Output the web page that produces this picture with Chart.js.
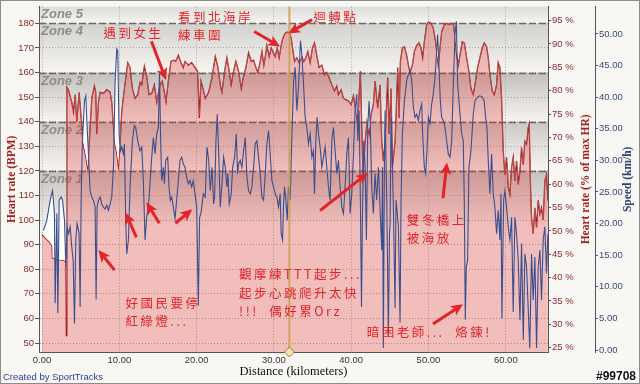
<!DOCTYPE html>
<html lang="zh-Hant">
<head>
<meta charset="UTF-8">
<title>Heart rate / Speed</title>
<script src="https://cdn.jsdelivr.net/npm/chart.js"></script>
<style>
    body { margin: 0; background: #f8f7f4; }
    canvas { display: block; }
</style>
</head>
<body>
<canvas id="chart" width="640" height="384"></canvas>
<script>
// heart rate (bpm) by distance (km)
const hrKm = [0, 0.5, 1.0, 1.3, 1.35, 2.0, 2.9, 3.1, 3.15, 3.21, 3.42, 3.85, 4.07, 4.29, 4.5, 4.8, 5.06, 5.28, 5.58, 5.92,
    6.22, 6.44, 6.78, 6.95, 7.08, 7.3, 7.52, 7.95, 8.38, 8.81, 9.02, 9.37, 9.67, 9.88, 10.1, 10.31, 10.66, 11.09, 11.39, 11.69,
    12.04, 12.38, 12.68, 12.9, 13.24, 13.54, 13.85, 14.19, 14.53, 14.84, 15.27, 15.57, 15.83, 16.04, 16.34, 16.69, 16.99, 17.29, 17.64, 17.98,
    18.28, 18.5, 18.93, 19.36, 19.7, 20.13, 20.35, 20.56, 20.87, 21.12, 21.56, 21.99, 22.42, 22.76, 23.06, 23.28, 23.62, 23.92, 24.14, 24.47,
    24.78, 25.08, 25.43, 25.78, 26.07, 26.38, 26.72, 27.07, 27.37, 27.67, 27.93, 28.23, 28.45, 28.7, 28.88, 29.09, 29.39, 29.65, 29.87, 30.17,
    30.43, 30.68, 30.94, 31.16, 31.46, 31.8, 32.02, 32.24, 32.41, 32.67, 32.97, 33.27, 33.61, 33.87, 34.13, 34.39, 34.69, 34.99, 35.25, 35.55,
    35.85, 36.2, 36.54, 36.84, 37.14, 37.49, 37.83, 38.13, 38.35, 38.7, 39.0, 39.3, 39.64, 39.99, 40.29, 40.59, 40.85, 41.02, 41.19, 41.37,
    41.54, 41.8, 42.05, 42.31, 42.57, 42.87, 43.09, 43.43, 43.73, 43.95, 44.16, 44.38, 44.72, 44.9, 45.16, 45.33, 45.68, 46.02, 46.19, 46.36,
    46.62, 46.88, 47.18, 47.4, 47.61, 47.91, 48.17, 48.47, 48.77, 49.03, 49.24, 49.46, 49.76, 49.98, 50.32, 50.62, 50.92, 51.1, 51.27, 51.49,
    51.7, 52.05, 52.35, 52.65, 53.0, 53.25, 53.43, 53.64, 53.86, 54.07, 54.37, 54.63, 54.93, 55.23, 55.49, 55.79, 56.01, 56.35, 56.65, 56.95,
    57.21, 57.51, 57.73, 57.95, 58.25, 58.51, 58.81, 59.02, 59.24, 59.45, 59.67, 59.88, 60.1, 60.31, 60.53, 60.75, 60.96, 61.18, 61.39, 61.61,
    61.83, 62.04, 62.26, 62.47, 62.69, 62.9, 63.03, 63.2, 63.33, 63.55, 63.76, 63.98, 64.19, 64.41, 64.62, 64.84, 65.05, 65.27, 65.45];
const hrBpm = [94, 92.5, 91, 89.5, 84.5, 84, 83.5, 83, 53, 154, 153, 148, 144, 151, 140, 152, 142, 132, 127, 121,
    137.5, 149.5, 154.5, 152, 135, 148, 152, 151.5, 153, 152, 148, 132, 127, 122, 131, 144, 153.5, 164, 162, 153.5,
    149.5, 151, 156, 155, 162.5, 158.5, 151, 151.5, 155, 148, 155, 156.5, 152, 148, 156.5, 164.5, 165, 164.5, 167, 164,
    162, 164.5, 163, 164, 162.5, 160.5, 141.5, 156.5, 153, 149.5, 152, 158, 166.5, 162, 155, 152, 160.5, 166, 162, 155,
    160.5, 164.5, 160.5, 153.5, 158.5, 162, 168, 164.5, 165, 162, 160, 164.5, 168.5, 163, 166.5, 171, 166.5, 170, 168.5, 166.5,
    170, 166, 171, 174, 176, 176.5, 176, 174, 170, 164.5, 166, 164, 166.5, 164.5, 166, 168.5, 164, 170, 172, 167,
    162, 163, 159, 160, 158, 155, 152.5, 154.5, 151, 153, 149.5, 149, 148.5, 147, 150.5, 144.5, 139, 151, 160.5, 137.5,
    118.5, 132, 140, 135, 143, 147, 156.5, 145.5, 155, 132, 124, 132, 158, 135, 153.5, 121.5, 132, 162, 141.5, 164.5,
    170, 170.5, 167, 163, 160, 163, 168.5, 171, 172, 170, 166, 172.5, 179.5, 180.5, 180, 178, 172.5, 167, 163, 170,
    176.5, 179.5, 180, 179.5, 180, 179.5, 174, 167, 163, 167, 172.5, 172, 166, 160.5, 153.5, 151, 155, 162, 166, 170,
    172, 170.5, 166, 159, 152.5, 151, 155, 164, 162, 149.5, 128, 118.5, 125.5, 113.5, 110.5, 121.5, 125.5, 116, 124, 114.5,
    120, 129.5, 122.5, 132, 131, 137.5, 139, 113.5, 101, 94.5, 105, 97, 108, 102.5, 105, 100, 116, 118.5, 108];

// speed (km/h) by distance (km)
const spdKm = [0.19, 0.62, 1.06, 1.36, 1.61, 1.7, 1.92, 2.05, 2.22, 2.48, 2.65, 2.91, 3.08, 3.25, 3.42, 3.64, 3.85, 4.03, 4.2, 4.37,
    4.54, 4.8, 4.93, 5.06, 5.23, 5.49, 5.66, 5.84, 6.01, 6.22, 6.44, 6.65, 6.87, 7.0, 7.13, 7.3, 7.52, 7.73, 7.95, 8.16,
    8.38, 8.59, 8.81, 9.02, 9.24, 9.45, 9.67, 9.8, 9.97, 10.14, 10.31, 10.53, 10.66, 10.83, 10.96, 11.18, 11.39, 11.69, 11.95, 12.12,
    12.38, 12.68, 12.9, 13.11, 13.33, 13.54, 13.76, 13.97, 14.19, 14.41, 14.62, 14.84, 15.05, 15.2, 15.35, 15.48, 15.7, 15.83, 16.0, 16.26,
    16.43, 16.6, 16.77, 16.99, 17.21, 17.42, 17.64, 17.85, 18.07, 18.28, 18.5, 18.71, 18.93, 19.14, 19.36, 19.57, 19.79, 20.01, 20.22, 20.39,
    20.56, 20.87, 21.12, 21.34, 21.56, 21.77, 21.99, 22.2, 22.33, 22.5, 22.67, 22.85, 23.06, 23.28, 23.49, 23.71, 23.92, 24.05, 24.22, 24.48,
    24.66, 24.92, 25.13, 25.3, 25.43, 25.65, 25.86, 26.08, 26.29, 26.51, 26.72, 26.94, 27.15, 27.37, 27.58, 27.8, 28.01, 28.23, 28.44, 28.66,
    28.88, 29.09, 29.31, 29.52, 29.74, 29.95, 30.17, 30.38, 30.6, 30.81, 30.94, 31.12, 31.25, 31.37, 31.55, 31.72, 31.89, 32.11, 32.24, 32.54,
    32.75, 32.97, 33.18, 33.44, 33.61, 33.83, 34.04, 34.26, 34.47, 34.69, 34.91, 35.12, 35.25, 35.42, 35.59, 35.77, 35.98, 36.2, 36.41, 36.63,
    36.84, 37.06, 37.27, 37.49, 37.7, 37.92, 38.14, 38.35, 38.57, 38.78, 39.0, 39.21, 39.43, 39.64, 39.86, 40.07, 40.29, 40.5, 40.72, 40.85,
    41.02, 41.19, 41.33, 41.45, 41.62, 41.8, 41.97, 42.14, 42.31, 42.48, 42.66, 42.87, 43.09, 43.3, 43.52, 43.73, 43.95, 44.05, 44.16, 44.3,
    44.38, 44.6, 44.81, 44.95, 45.03, 45.16, 45.33, 45.46, 45.67, 45.8, 46.11, 46.32, 46.45, 46.62, 46.88, 47.18, 47.4, 47.61, 47.83, 48.04,
    48.26, 48.47, 48.69, 48.9, 49.12, 49.24, 49.46, 49.63, 49.8, 49.98, 50.19, 50.41, 50.62, 50.84, 51.06, 51.18, 51.36, 51.53, 51.7, 51.92,
    52.13, 52.35, 52.56, 52.78, 53.0, 53.21, 53.43, 53.6, 53.77, 53.94, 54.11, 54.29, 54.5, 54.63, 54.76, 54.89, 55.06, 55.23, 55.49, 55.79,
    56.01, 56.35, 56.65, 56.95, 57.21, 57.39, 57.56, 57.73, 57.95, 58.16, 58.38, 58.59, 58.81, 59.02, 59.24, 59.37, 59.5, 59.72, 59.88, 60.1,
    60.31, 60.53, 60.75, 60.96, 61.18, 61.39, 61.61, 61.83, 62.04, 62.26, 62.47, 62.69, 63.1, 63.33, 63.55, 63.76, 63.98, 64.19, 64.41, 64.62,
    64.84, 65.05, 65.27, 65.45];
const spdKmh = [18.9, 20.5, 23.7, 25.2, 21.6, 7.4, 21.6, 5.8, 23.7, 24.2, 23.7, 20.5, 13.1, 19.5, 18.4, 19.5, 16.3, 14.2, 4.2, 17.4,
    20, 18.4, 6.8, 23.7, 33.1, 39.4, 40.2, 35.2, 31, 25.2, 24.2, 23.7, 22.6, 8, 22.6, 23.7, 24.2, 23.1, 22.6, 22.3,
    22.9, 22.1, 23.1, 24.2, 28.9, 42.1, 47.6, 47.3, 34.2, 31.5, 32.1, 31, 32.6, 20.5, 15.2, 17.4, 25.8, 33.1, 35.5, 35.2,
    33.1, 31.5, 32.1, 26.8, 17.4, 21, 22.6, 26.3, 30.5, 33.6, 31, 34.2, 35.2, 44, 33.1, 26.8, 28.9, 26.3, 30, 30.5,
    25.8, 23.7, 24.2, 22.6, 20.8, 23.7, 26.8, 30, 30.5, 29.4, 28.9, 27.3, 26.3, 26.8, 25.8, 26.8, 24.7, 22.6, 7, 21,
    21.6, 24.7, 24.2, 32.1, 30, 25.2, 28.9, 23.1, 24.2, 33.1, 37.3, 31.5, 22.6, 26.3, 30.5, 28.9, 25.8, 27.9, 23.1, 24.7,
    28.9, 30.5, 34.2, 27.9, 29.4, 30, 28.9, 31.5, 33.6, 27.3, 25.2, 24.7, 25.8, 28.9, 32.6, 33.1, 30.5, 27.9, 24.2, 23.7,
    27.9, 32.6, 34.7, 31, 26.8, 25.8, 24.7, 24.2, 22.6, 24.7, 18.4, 17.4, 23.1, 25.8, 23.7, 20.5, 25.8, 23.7, 30, 42.6,
    44.7, 37.9, 41.5, 48.9, 46.8, 42.1, 36.8, 35.2, 32.6, 34.2, 30.5, 31.5, 24.7, 33.1, 36.8, 34.2, 32.1, 28.9, 30.5, 32.1,
    28.9, 25.8, 23.7, 33.1, 35.2, 31.5, 27.9, 30, 25.8, 22.6, 21.6, 25.8, 31, 33.6, 21.6, 24.7, 31, 37.9, 40.5, 33.1,
    37.9, 23.7, 6.8, 21, 33.1, 28.9, 17.4, 35.2, 39.4, 35.2, 25.8, 21.6, 27.9, 23.7, 28.9, 22.6, 15.8, 28.9, 0.3, 30,
    37.9, 23.7, 2.1, 18.4, 20, 36.8, 28.9, 22.6, 6.6, 23.7, 19.5, 4.3, 23.7, 34.2, 39.4, 42.6, 43.6, 44.2, 42.6, 38.4,
    36.8, 37.3, 36.3, 37.9, 38.9, 34.2, 28.9, 27.9, 31.5, 36.8, 35.8, 38.9, 40.5, 43.1, 47.3, 49.9, 44.7, 39.4, 36.8, 36.3,
    35.2, 33.1, 31, 30.5, 33.1, 42.1, 49.9, 52, 42.1, 39.4, 36.8, 34.2, 33.1, 23.7, 4.8, 13.1, 14.2, 28.9, 31.5, 37.3,
    39.4, 40, 40.2, 40, 39.4, 36.8, 35.2, 30, 24.7, 31, 24.7, 22.6, 18.4, 22.1, 17.4, 24.7, 5, 23.7, 25.2, 22.6,
    19.5, 17.4, 21, 6, 21, 18.4, 14.2, 4.7, 16.8, 1.6, 15.2, 13.1, 0.3, 15.2, 7.9, 14.7, 0.3, 13.1, 15.8, 7.9,
    17.4, 19.5, 12.1, 18.4];

// heart rate zone limits (bpm)
const zoneLimits = [120, 140, 160, 180];
const zoneNames = ['Zone 1', 'Zone 2', 'Zone 3', 'Zone 4', 'Zone 5'];
const zoneShade = ['#c5c2be', '#cbc8c4', '#c3c0bc', '#d3d1cd', '#dedcd8'];

// turnaround marker
const markerKm = 32.0;

// red handwritten notes: [km, bpm] of first line's left edge, line gap in px
const notes = [
    { at: [7.95, 175.8], lines: ['遇到女生'] },
    { at: [17.6, 182.6], lines: ['看到北海岸', '練車圍'] },
    { at: [35.1, 182.6], lines: ['迴轉點'] },
    { at: [10.8, 66.2], lines: ['好國民要停', '紅綠燈...'] },
    { at: [25.5, 77.9], lines: ['觀摩練TTT起步...', '起步心跳爬升太快', '!!!  偶好累Orz'] },
    { at: [47.2, 100.0], lines: ['雙冬橋上', '被海放'] },
    { at: [42.0, 54.5], lines: ['暗困老師...  烙鍊!'] }
];
// arrows: tail [km, bpm] -> tip [km, bpm]
const arrows = [
    [[14.15, 172.7], [16.05, 157.0]],
    [[27.45, 176.7], [30.8, 170.6]],
    [[34.95, 181.5], [31.85, 175.9]],
    [[9.37, 79.7], [7.3, 87.8]],
    [[12.21, 93.0], [10.79, 103.1]],
    [[15.18, 98.7], [13.5, 107.2]],
    [[17.25, 98.7], [19.44, 104.4]],
    [[35.98, 103.9], [42.18, 119.2]],
    [[51.87, 108.9], [52.39, 123.4]],
    [[50.58, 57.7], [54.46, 65.8]]
];

const tickFont = { family: '"Liberation Sans", Arial, sans-serif', size: 9.5 };
const serif = '"Liberation Serif", "DejaVu Serif", serif';

function drawArrow(ctx, x1, y1, x2, y2) {
    const ang = Math.atan2(y2 - y1, x2 - x1);
    const cos = Math.cos(ang), sin = Math.sin(ang);
    const head = 12, wing = 5.5, notch = 3;
    const bx = x2 - head * cos, by = y2 - head * sin;
    ctx.lineWidth = 3;
    ctx.beginPath();
    ctx.moveTo(x1, y1);
    ctx.lineTo(bx + notch * cos, by + notch * sin);
    ctx.stroke();
    ctx.beginPath();
    ctx.moveTo(x2, y2);
    ctx.lineTo(bx + wing * sin, by - wing * cos);
    ctx.lineTo(bx + notch * cos, by + notch * sin);
    ctx.lineTo(bx - wing * sin, by + wing * cos);
    ctx.closePath();
    ctx.fill();
}

const sportPlugin = {
    id: 'sportTracks',
    beforeDraw(chart) {
        const { ctx, chartArea: a, scales: { y } } = chart;
        ctx.save();
        ctx.fillStyle = '#f8f7f4';
        ctx.fillRect(0, 0, chart.width, chart.height);
        const edges = [y.min, ...zoneLimits, y.max];
        for (let i = 0; i < edges.length - 1; i++) {
            const top = y.getPixelForValue(edges[i + 1]);
            const bot = y.getPixelForValue(edges[i]);
            const g = ctx.createLinearGradient(0, top, 0, top + Math.min(bot - top, 58));
            g.addColorStop(0, zoneShade[i]);
            g.addColorStop(1, '#f7f5f2');
            ctx.fillStyle = g;
            ctx.fillRect(a.left, top, a.right - a.left, bot - top);
        }
        ctx.restore();
    },
    beforeDatasetsDraw(chart) {
        const { ctx, chartArea: a, scales: { y } } = chart;
        ctx.save();
        ctx.font = 'italic bold 13px "Liberation Sans", Arial, sans-serif';
        ctx.fillStyle = '#8f8d8a';
        ctx.textBaseline = 'top';
        ctx.fillText(zoneNames[4], a.left + 2, a.top + 1);
        zoneLimits.forEach((z, i) => {
            ctx.fillText(zoneNames[i], a.left + 2, y.getPixelForValue(z) + 2);
        });
        ctx.strokeStyle = 'rgba(95,93,90,0.9)';
        ctx.lineWidth = 1.6;
        ctx.setLineDash([7, 3]);
        zoneLimits.forEach(z => {
            const py = Math.round(y.getPixelForValue(z)) + 0.5;
            ctx.beginPath();
            ctx.moveTo(a.left, py);
            ctx.lineTo(a.right, py);
            ctx.stroke();
        });
        ctx.restore();
    },
    afterDatasetsDraw(chart) {
        const { ctx, chartArea: a, scales: { x } } = chart;
        const mx = x.getPixelForValue(markerKm);
        ctx.save();
        ctx.strokeStyle = 'rgba(200,160,80,0.85)';
        ctx.lineWidth = 2;
        ctx.beginPath();
        ctx.moveTo(mx, a.top);
        ctx.lineTo(mx, a.bottom);
        ctx.stroke();
        ctx.fillStyle = '#f3e6a6';
        ctx.strokeStyle = '#9a7a3a';
        ctx.lineWidth = 1;
        ctx.beginPath();
        ctx.moveTo(mx, a.bottom - 5);
        ctx.lineTo(mx + 5, a.bottom);
        ctx.lineTo(mx, a.bottom + 5);
        ctx.lineTo(mx - 5, a.bottom);
        ctx.closePath();
        ctx.fill();
        ctx.stroke();
        ctx.restore();
    },
    afterDraw(chart) {
        const { ctx, chartArea: a, scales: { x, y } } = chart;
        const midY = (a.top + a.bottom) / 2;
        ctx.save();
        // axis titles
        const vTitle = (text, cx, color) => {
            ctx.save();
            ctx.translate(cx, midY);
            ctx.rotate(-Math.PI / 2);
            ctx.fillStyle = color;
            ctx.font = 'bold 11.5px ' + serif;
            ctx.textAlign = 'center';
            ctx.textBaseline = 'middle';
            ctx.fillText(text, 0, 0);
            ctx.restore();
        };
        vTitle('Heart rate (BPM)', 12, '#a3201c');
        vTitle('Heart rate (% of max HR)', 586, '#a3201c');
        vTitle('Speed (km/h)', 628, '#2c4474');
        ctx.fillStyle = '#111';
        ctx.font = '12.5px ' + serif;
        ctx.textAlign = 'center';
        ctx.textBaseline = 'middle';
        ctx.fillText('Distance (kilometers)', (a.left + a.right) / 2, 372);

        // notes
        ctx.fillStyle = '#e2242a';
        ctx.strokeStyle = '#e2242a';
        ctx.textAlign = 'left';
        ctx.font = '12.5px "Noto Sans CJK TC", "Noto Sans CJK SC", sans-serif';
        ctx.letterSpacing = '2.5px';
        notes.forEach(n => {
            const px = x.getPixelForValue(n.at[0]);
            const py = y.getPixelForValue(n.at[1]);
            n.lines.forEach((t, i) => ctx.fillText(t, px, py + i * 18.5));
        });
        ctx.letterSpacing = '0px';
        arrows.forEach(([from, to]) => {
            drawArrow(ctx, x.getPixelForValue(from[0]), y.getPixelForValue(from[1]),
                x.getPixelForValue(to[0]), y.getPixelForValue(to[1]));
        });

        // credits
        ctx.font = '9.5px "Liberation Sans", Arial, sans-serif';
        ctx.fillStyle = '#2b3d93';
        ctx.textAlign = 'left';
        ctx.fillText('Created by SportTracks', 3, 377.5);
        ctx.font = 'bold 12px "Liberation Sans", Arial, sans-serif';
        ctx.textAlign = 'right';
        ctx.lineWidth = 3;
        ctx.strokeStyle = '#ffffff';
        ctx.strokeText('#99708', 636, 376.5);
        ctx.fillStyle = '#111';
        ctx.fillText('#99708', 636, 376.5);

        // outer frame
        ctx.strokeStyle = '#8c8c8c';
        ctx.lineWidth = 1;
        ctx.strokeRect(0.5, 0.5, chart.width - 1, chart.height - 1);
        ctx.restore();
    }
};

new Chart(document.getElementById('chart').getContext('2d'), {
    type: 'line',
    data: {
        datasets: [
            {
                label: 'Heart rate',
                data: hrKm.map((k, i) => ({ x: k, y: hrBpm[i] })),
                xAxisID: 'x',
                yAxisID: 'y',
                borderColor: '#a31b1b',
                borderWidth: 1.3,
                backgroundColor: 'rgba(225,45,45,0.27)',
                fill: 'start',
                pointRadius: 0,
                tension: 0,
                order: 2
            },
            {
                label: 'Speed',
                data: spdKm.map((k, i) => ({ x: k, y: spdKmh[i] })),
                xAxisID: 'x',
                yAxisID: 'ySpd',
                borderColor: '#3a4f8e',
                borderWidth: 1.1,
                fill: { target: 0, above: 'rgba(255,255,255,0.85)', below: 'rgba(0,0,0,0)' },
                pointRadius: 0,
                tension: 0,
                order: 1
            }
        ]
    },
    options: {
        responsive: false,
        animation: false,
        devicePixelRatio: 1,
        layout: { padding: { top: 5, left: 0, right: 0, bottom: 0 } },
        plugins: {
            legend: { display: false },
            tooltip: { enabled: false }
        },
        scales: {
            x: {
                type: 'linear',
                position: 'bottom',
                min: -0.39,
                max: 65.46,
                afterFit: s => { s.height = 32; },
                ticks: {
                    stepSize: 10, includeBounds: false, maxTicksLimit: 20, autoSkip: false,
                    maxRotation: 0, padding: 3, color: '#333', font: tickFont,
                    callback: v => v.toFixed(2)
                },
                grid: { color: '#a8a6a3', lineWidth: 1, drawTicks: false },
                border: { color: '#555', width: 1, dash: [1, 2] }
            },
            y: {
                type: 'linear',
                position: 'left',
                min: 46.36,
                max: 186.76,
                afterFit: s => { s.width = 39; },
                ticks: {
                    stepSize: 10, includeBounds: false, maxTicksLimit: 20, autoSkip: false,
                    padding: 1, color: '#8c2a28', font: tickFont
                },
                grid: { color: '#a8a6a3', lineWidth: 1, tickLength: 4, tickColor: '#555', tickBorderDash: [] },
                border: { color: '#555', width: 1, dash: [1, 2] }
            },
            yPct: {
                type: 'linear',
                position: 'right',
                weight: 1,
                min: 24.08,
                max: 97.98,
                afterFit: s => { s.width = 47; },
                ticks: {
                    stepSize: 5, includeBounds: false, maxTicksLimit: 20, autoSkip: false,
                    padding: 1, color: '#8c2a28', font: tickFont,
                    callback: v => v + ' %'
                },
                grid: { drawOnChartArea: false, tickLength: 3, tickColor: '#555', tickBorderDash: [] },
                border: { color: '#555', width: 1 }
            },
            ySpd: {
                type: 'linear',
                position: 'right',
                weight: 2,
                min: -0.315,
                max: 54.3,
                afterFit: s => { s.width = 45; },
                ticks: {
                    stepSize: 5, includeBounds: false, maxTicksLimit: 20, autoSkip: false,
                    padding: 1, color: '#3b4b7a', font: tickFont,
                    callback: v => v.toFixed(2)
                },
                grid: { drawOnChartArea: false, tickLength: 3, tickColor: '#555', tickBorderDash: [] },
                border: { color: '#555', width: 1 }
            }
        }
    },
    plugins: [sportPlugin]
});
</script>
</body>
</html>
